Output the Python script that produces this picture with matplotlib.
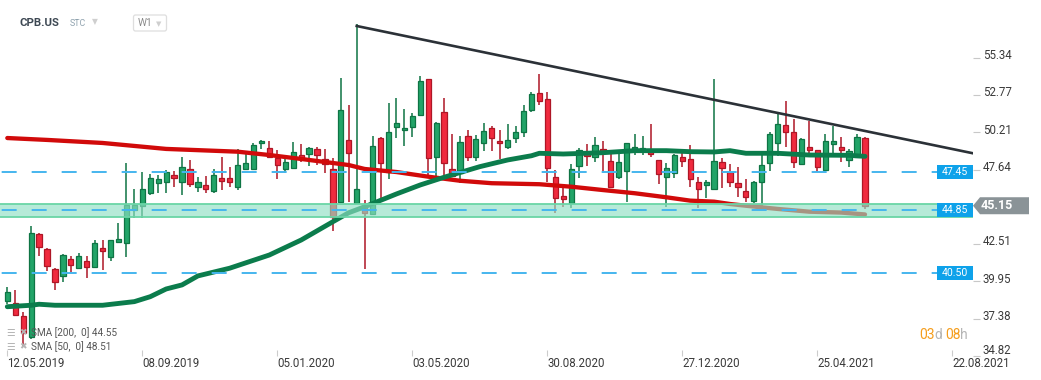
import matplotlib
matplotlib.use("Agg")
import matplotlib.pyplot as plt
from matplotlib.patches import Polygon, Rectangle, FancyBboxPatch
from matplotlib.transforms import IdentityTransform, ScaledTranslation
import numpy as np

plt.rcParams['font.family'] = ['Roboto', 'DejaVu Sans']
plt.rcParams['lines.scale_dashes'] = False

# ---------------- data ----------------
symbol = "CPB.US"
date_labels = ["12.05.2019", "08.09.2019", "05.01.2020", "03.05.2020",
               "30.08.2020", "27.12.2020", "25.04.2021", "22.08.2021"]
date_label_idx = [0, 17, 34, 51, 68, 85, 102, 119]
price_ticks = [34.82, 37.38, 39.95, 42.51, 47.64, 50.21, 52.77, 55.34]

opens = [38.62, 38.44, 37.56, 36.12, 43.21, 42.17, 40.80, 40.32, 41.49, 40.87,
         41.35, 40.93, 42.24, 41.62, 42.66, 42.59, 44.86, 45.13, 46.03, 46.72,
         46.79, 47.27, 46.76, 47.68, 46.44, 46.58, 46.17, 47.06, 47.06, 46.44,
         47.68, 47.68, 49.47, 49.12, 48.44, 47.68, 47.75, 48.64, 48.71, 49.06,
         48.37, 47.68, 45.41, 49.68, 45.34, 45.20, 44.58, 49.81, 47.47, 50.57,
         50.36, 50.57, 51.40, 53.87, 48.50, 51.60, 47.68, 47.40, 49.95, 48.50,
         49.47, 50.50, 49.61, 49.19, 49.81, 50.23, 51.74, 52.91, 52.50, 47.13,
         45.82, 45.34, 47.89, 48.78, 48.50, 49.06, 48.23, 47.13, 47.54, 49.06,
         49.06, 48.85, 48.30, 47.13, 47.40, 48.50, 48.37, 46.79, 46.58, 46.30,
         48.16, 47.47, 46.72, 46.17, 45.48, 46.79, 48.09, 49.47, 50.71, 50.23,
         48.02, 49.19, 48.99, 47.61, 49.40, 49.19, 48.30, 48.50, 49.81]
highs = [39.56, 39.35, 37.84, 43.76, 43.25, 42.24, 40.85, 41.80, 41.69, 41.90,
         41.69, 42.79, 42.79, 42.82, 43.96, 48.09, 46.30, 47.47, 47.34, 47.27,
         47.61, 47.54, 48.53, 48.30, 47.13, 47.20, 47.68, 48.50, 47.82, 49.06,
         48.85, 49.47, 49.65, 49.61, 48.99, 48.44, 49.54, 49.40, 49.19, 49.19,
         49.06, 48.44, 53.94, 52.08, 57.66, 45.55, 49.95, 49.85, 52.22, 52.57,
         51.81, 51.53, 54.08, 53.90, 50.88, 52.57, 50.09, 49.95, 50.36, 50.02,
         50.84, 50.64, 50.36, 50.78, 50.64, 52.08, 52.98, 54.22, 52.98, 47.61,
         46.37, 48.02, 49.12, 49.40, 49.88, 49.61, 48.78, 48.78, 49.50, 50.09,
         49.95, 50.78, 48.33, 48.09, 48.68, 48.85, 49.33, 47.13, 46.92, 53.87,
         48.44, 48.02, 47.82, 46.99, 46.85, 48.64, 50.23, 51.46, 52.36, 51.12,
         49.78, 50.98, 49.02, 50.09, 50.64, 49.88, 49.06, 50.09, 49.85]
lows = [38.39, 37.60, 35.43, 36.00, 41.69, 40.66, 39.35, 39.90, 40.59, 40.80,
        40.18, 40.85, 40.73, 41.35, 42.60, 41.62, 44.31, 44.31, 45.89, 46.03,
        46.03, 46.44, 45.89, 46.44, 46.10, 46.03, 46.03, 46.23, 46.44, 46.23,
        47.65, 47.65, 49.06, 48.44, 46.99, 47.40, 47.70, 48.16, 47.89, 47.95,
        47.40, 43.41, 45.35, 45.41, 45.30, 40.80, 44.55, 45.68, 46.99, 49.81,
        49.26, 49.88, 51.35, 47.06, 47.13, 47.13, 47.13, 46.72, 48.23, 48.23,
        48.92, 48.92, 48.37, 49.06, 49.47, 49.88, 51.60, 52.08, 46.79, 44.65,
        45.06, 45.00, 47.06, 47.89, 48.16, 47.40, 46.37, 46.99, 45.41, 48.64,
        48.64, 48.50, 46.65, 45.06, 47.06, 47.82, 46.44, 45.00, 45.68, 46.25,
        46.37, 46.44, 45.75, 45.41, 45.34, 45.06, 47.54, 48.57, 49.19, 47.75,
        47.98, 48.78, 47.47, 47.58, 48.71, 48.16, 47.82, 48.46, 44.95]
closes = [39.24, 37.63, 36.39, 43.27, 42.31, 41.00, 39.90, 41.76, 41.07, 41.69,
          40.93, 42.59, 42.04, 42.79, 42.86, 45.20, 45.20, 46.30, 47.06, 46.99,
          47.47, 47.06, 47.84, 46.65, 46.79, 46.30, 47.27, 46.85, 46.79, 47.95,
          48.09, 49.33, 49.61, 48.50, 47.95, 48.16, 48.85, 48.44, 49.12, 48.64,
          48.02, 44.38, 51.74, 48.78, 46.30, 44.65, 49.26, 48.09, 50.23, 50.84,
          50.50, 51.33, 53.74, 48.44, 50.84, 48.09, 47.20, 49.54, 48.50, 49.74,
          50.29, 49.81, 49.47, 49.68, 50.23, 51.67, 52.84, 52.36, 47.75, 45.68,
          45.61, 47.68, 48.99, 48.57, 49.33, 48.92, 46.44, 48.16, 49.47, 49.19,
          49.12, 48.71, 47.34, 47.75, 48.64, 48.23, 46.99, 46.30, 46.79, 48.23,
          47.75, 46.79, 46.44, 45.75, 46.79, 47.95, 50.09, 50.78, 50.23, 48.16,
          49.74, 48.99, 47.82, 49.61, 49.61, 48.99, 48.92, 49.88, 45.15]

sma200_idx = [0, 5, 12, 20, 29, 33, 37, 43, 45, 49, 53, 57, 61, 67, 71, 75, 79,
              83, 86, 89, 91, 93, 97, 101, 105, 108]
sma200_val = [49.81, 49.68, 49.47, 49.06, 48.87, 48.64, 48.37, 47.95, 47.68,
              47.47, 47.15, 46.87, 46.70, 46.63, 46.46, 46.23, 46.01, 45.73,
              45.50, 45.43, 45.27, 45.15, 44.93, 44.74, 44.68, 44.55]
sma50_idx = [0, 3, 4, 6, 12, 16, 18, 20, 22, 24, 28, 33, 37, 41, 43, 45, 49,
             52, 55, 59.5, 63, 66, 67, 70, 75, 79, 83, 86, 89, 91, 93, 97,
             101, 106, 108]
sma50_val = [38.20, 38.30, 38.37, 38.30, 38.30, 38.55, 38.89, 39.42, 39.70,
             40.32, 40.85, 41.76, 42.79, 44.05, 44.67, 45.08, 45.96, 46.58,
             47.11, 47.84, 48.30, 48.59, 48.76, 48.71, 48.80, 48.94, 48.94,
             48.87, 48.85, 48.94, 48.76, 48.76, 48.64, 48.62, 48.55]

trend_idx = [44, 121.6]
trend_val = [57.52, 48.76]

levels = [47.45, 44.85, 40.50]
zone_low, zone_high = 44.35, 45.28
last_price = 45.15
sma_legend = ["SMA [200,  0] 44.55", "SMA [50,  0] 48.51"]

# ---------------- figure ----------------
W, H = 1041, 380
fig = plt.figure(figsize=(W / 100, H / 100), dpi=100)
ax_right_px = 973
ax_bottom_px = 356.4
ax = fig.add_axes([0, (H - ax_bottom_px) / H, ax_right_px / W, ax_bottom_px / H])
ax.set_xlim(-0.92, 121.6)
ax.set_ylim(34.78, 59.31)
for s in ax.spines.values():
    s.set_visible(False)

x = np.arange(len(opens))
o = np.array(opens); c = np.array(closes); hi = np.array(highs); lo = np.array(lows)
up = c >= o
g_fill, g_edge = "#22a468", "#0e7444"
r_fill, r_edge = "#f02a3e", "#ae1626"

ax.vlines(x[up], lo[up], hi[up], color=g_edge, lw=1.1, zorder=2)
ax.vlines(x[~up], lo[~up], hi[~up], color=r_edge, lw=1.1, zorder=2)
bh = np.maximum(np.abs(c - o), 0.06)
bb = np.minimum(o, c)
ax.bar(x[up], bh[up], bottom=bb[up], width=0.66, color=g_fill, edgecolor=g_edge,
       linewidth=0.9, zorder=3)
ax.bar(x[~up], bh[~up], bottom=bb[~up], width=0.66, color=r_fill, edgecolor=r_edge,
       linewidth=0.9, zorder=3)

ax.plot(sma200_idx, sma200_val, color="#d10a0a", lw=3.1, zorder=4,
        solid_capstyle="round", solid_joinstyle="round")
ax.plot(sma50_idx, sma50_val, color="#0b7c4c", lw=3.5, zorder=4,
        solid_capstyle="round", solid_joinstyle="round")

ax.axhspan(zone_low, zone_high, facecolor="#8fe0c3", alpha=0.65, edgecolor="none", zorder=5)
ax.axhline(zone_low, color="#6ad5a6", lw=1.3, zorder=5)
ax.axhline(zone_high, color="#6ad5a6", lw=1.3, zorder=5)

for lv in levels:
    ax.axhline(lv, color="#45b6ee", lw=1.4, linestyle=(-1.2, (10.8, 10.8)), zorder=6)

ax.plot(trend_idx, trend_val, color="#2b3137", lw=1.9, zorder=7)

# axes ticks
ax.yaxis.tick_right()
ax.set_yticks(price_ticks)
ax.set_yticklabels([f"{v:.2f}" for v in price_ticks])
ax.tick_params(axis="y", direction="out", length=5, width=0.8, color="#c8c8c8",
               pad=2, labelsize=8.3, labelcolor="#3a3a3a")
ax.set_xticks(date_label_idx)
ax.set_xticklabels(date_labels, ha="left")
ax.tick_params(axis="x", direction="in", length=4, width=0.8, color="#cccccc",
               pad=0.5, labelsize=8.3, labelcolor="#3a3a3a")
for t in ax.yaxis.get_major_ticks():
    dy = 7 if abs(t.get_loc() - 34.82) < 0.01 else 3.7
    for lab in (t.label1, t.label2):
        lab.set_transform(lab.get_transform() + ScaledTranslation(0, dy / 100, fig.dpi_scale_trans))

# ---------------- level boxes & price marker (display pixels) ----------------
idt = IdentityTransform()
xr = ax.transAxes.transform((1, 0))[0]
for lv in levels:
    yd = ax.transData.transform((0, lv))[1]
    fig.add_artist(Rectangle((xr - 36, yd - 7), 36, 14, transform=idt,
                             facecolor="#0ea2ea", edgecolor="none", zorder=10))
    fig.text(xr - 18, yd, f"{lv:.2f}", transform=idt, ha="center", va="center",
             color="white", fontsize=7.6, zorder=11)

yd = ax.transData.transform((0, last_price))[1]
fig.add_artist(Polygon([(xr, yd), (xr + 7, yd + 8.5), (xr + 56, yd + 8.5),
                        (xr + 56, yd - 8.5), (xr + 7, yd - 8.5)], closed=True,
                       transform=idt, facecolor="#8a9397", edgecolor="none", zorder=10))
fig.text(xr + 8, yd, f"{last_price:.2f}", transform=idt, ha="left", va="center",
         color="white", fontsize=9, fontweight="bold", zorder=11)

# ---------------- header ----------------
def P(xp, yp):
    return xp, H - yp

fig.text(*P(20, 23.5), symbol, transform=idt, ha="left", va="center",
         fontsize=8.2, fontweight="bold", color="#3d4853")
fig.text(*P(70, 24), "STC", transform=idt, ha="left", va="center",
         fontsize=6.4, color="#8fa2ae")
fig.text(*P(92, 22), "▼", transform=idt, ha="left", va="center",
         fontsize=5.5, color="#cfcfcf", family=["DejaVu Sans"])
fig.add_artist(FancyBboxPatch(P(133.5, 31), 33, 16, boxstyle="round,pad=0,rounding_size=2",
                              transform=idt, facecolor="white", edgecolor="#dedede", lw=0.9))
fig.text(*P(138, 23.5), "W1", transform=idt, ha="left", va="center",
         fontsize=7.3, color="#8a8a8a")
fig.text(*P(156, 24), "▼", transform=idt, ha="left", va="center",
         fontsize=5, color="#cfcfcf", family=["DejaVu Sans"])

# ---------------- indicator legend ----------------
for i, txt in enumerate(sma_legend):
    yy = 333 + i * 13.5
    fig.text(*P(6, yy), "☰", transform=idt, ha="left", va="center",
             fontsize=7, color="#b5b5b5", family=["DejaVu Sans"])
    fig.text(*P(19, yy), "✖", transform=idt, ha="left", va="center",
             fontsize=6.5, color="#b5b5b5", family=["DejaVu Sans"])
    fig.text(*P(31, yy), txt, transform=idt, ha="left", va="center",
             fontsize=7.2, color="#555555")

# ---------------- countdown ----------------
orange, grey = "#f59d1c", "#b5b5b5"
for xp, s, col in [(919, "03", orange), (934, "d", grey), (945, "08", orange), (960, "h", grey)]:
    fig.text(*P(xp, 335), s, transform=idt, ha="left", va="center",
             fontsize=10, color=col)

fig.savefig("out.png", dpi=100)
